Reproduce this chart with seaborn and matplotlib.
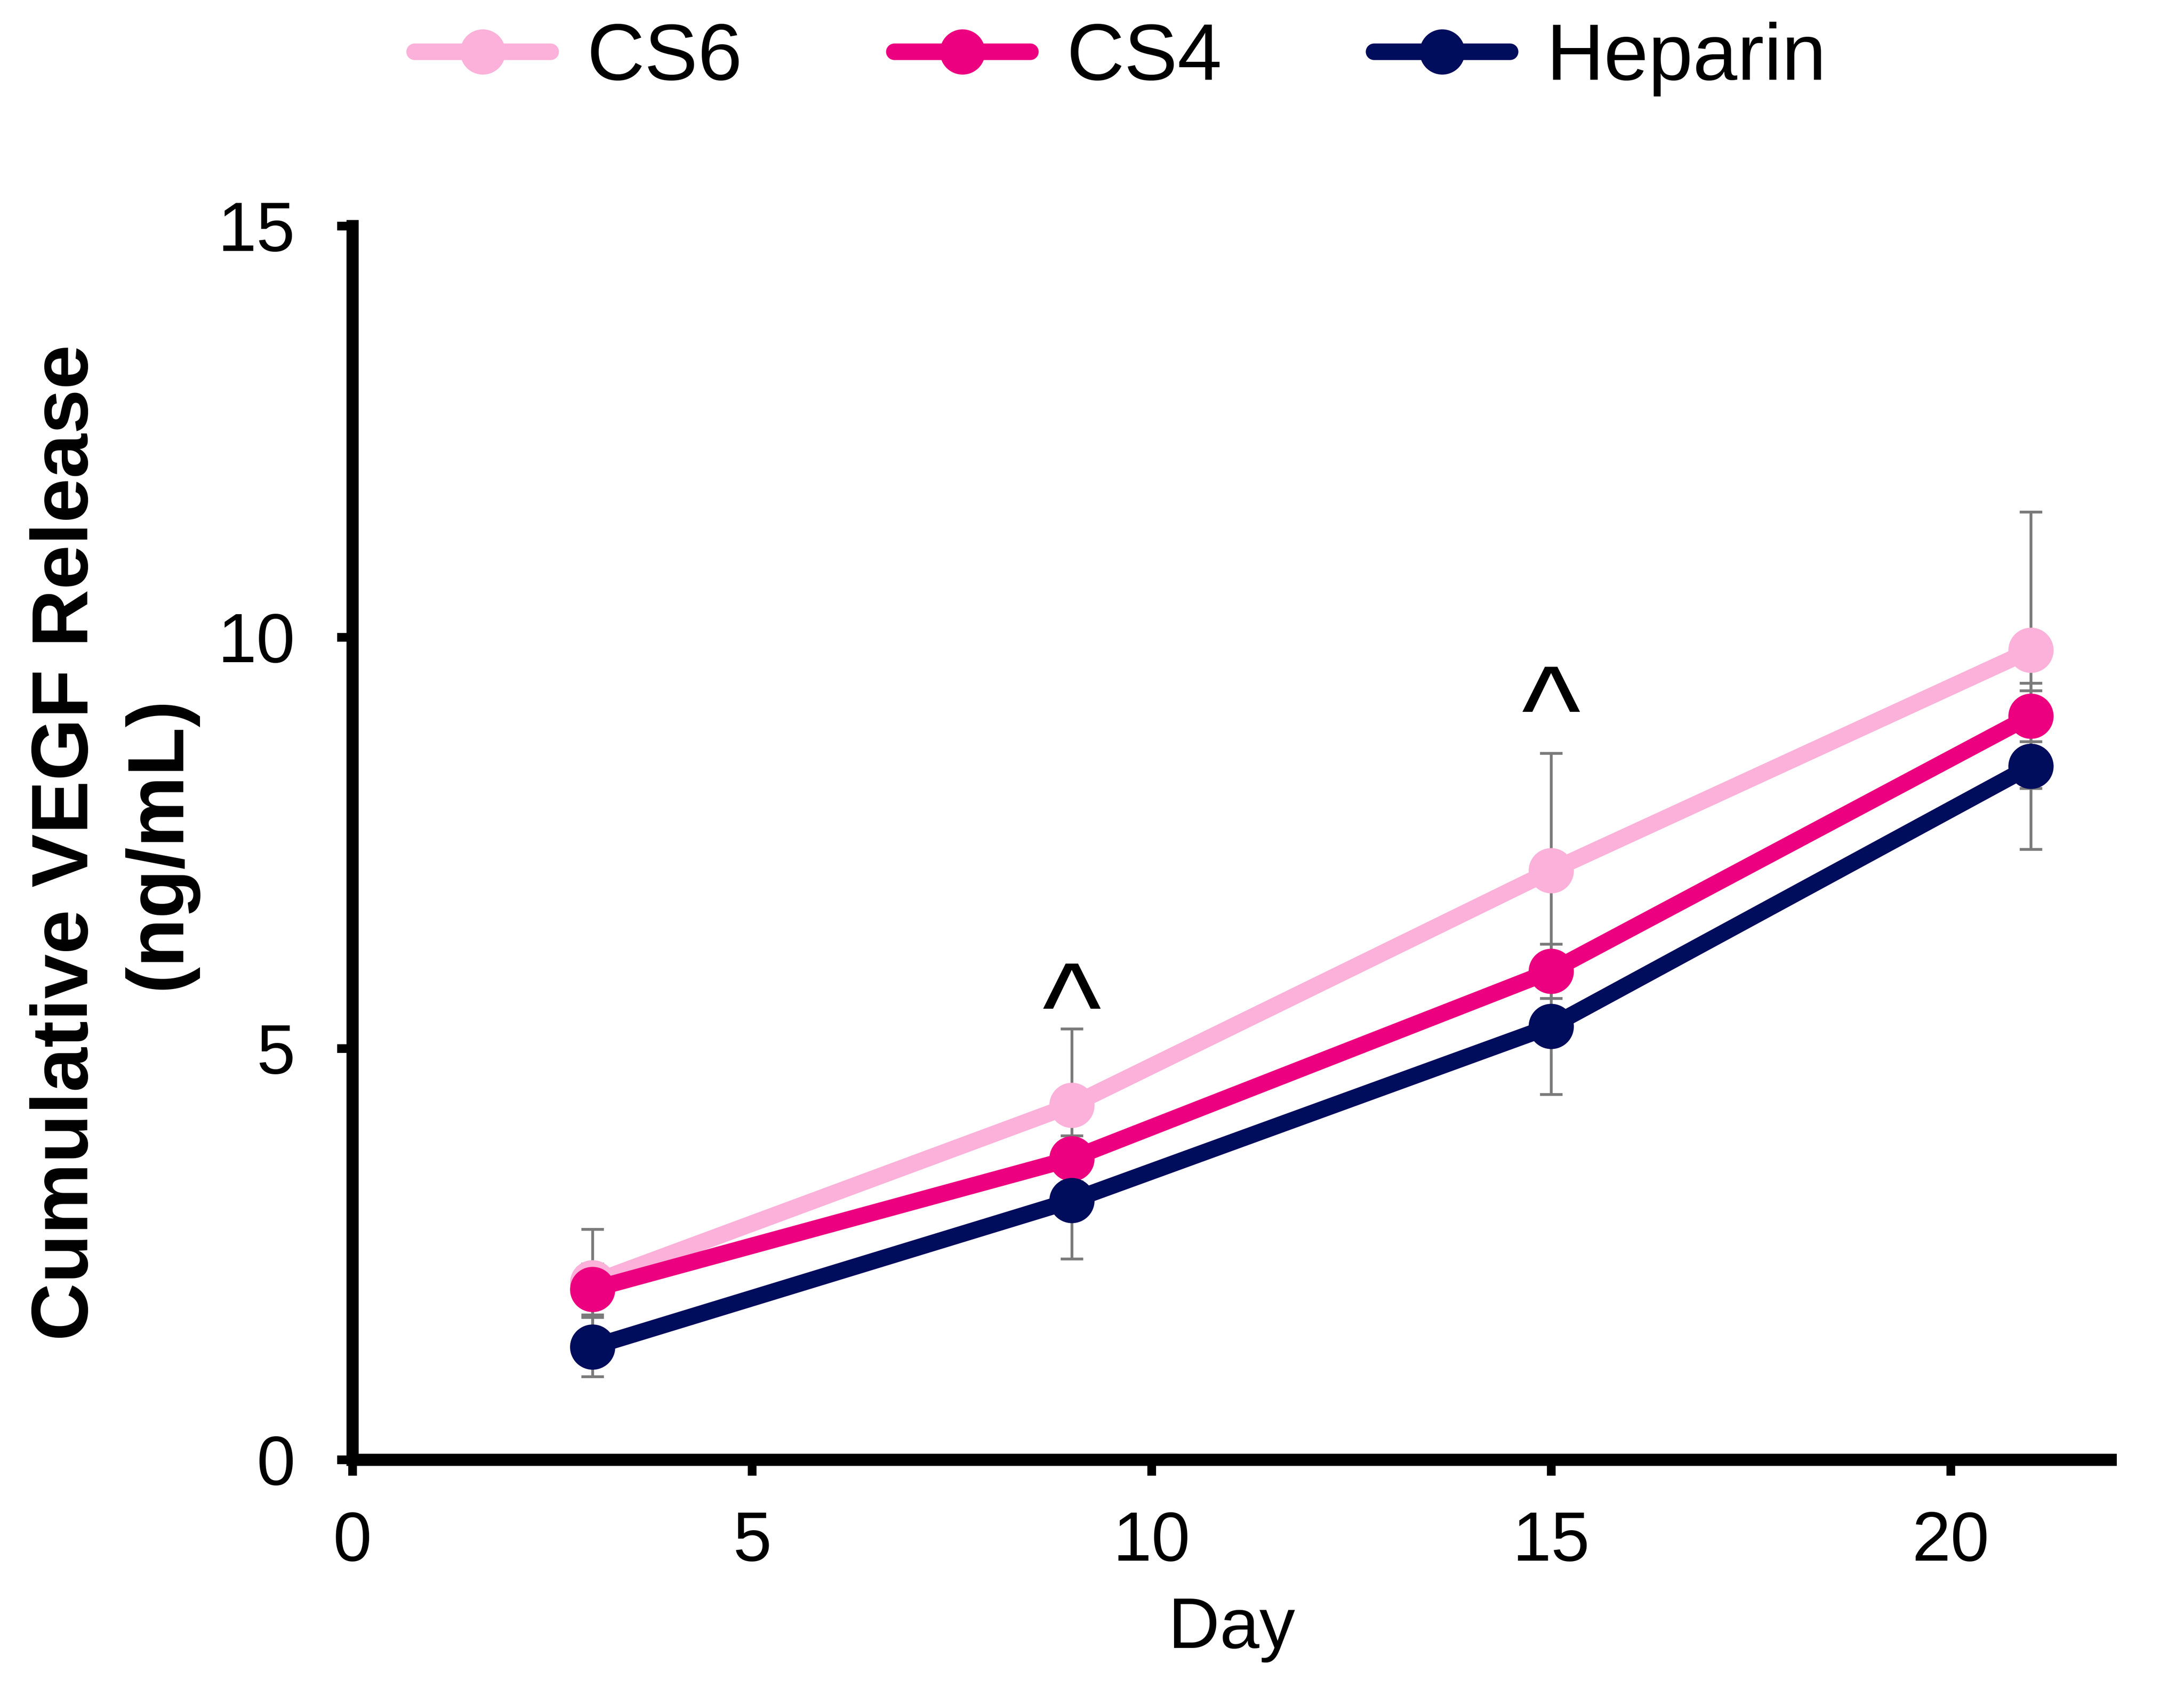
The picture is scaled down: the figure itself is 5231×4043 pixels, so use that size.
import numpy as np
import pandas as pd
import matplotlib
matplotlib.use("Agg")
import matplotlib.pyplot as plt
from matplotlib.lines import Line2D
import seaborn as sns

# values
days = [3, 9, 15, 21]
groups = ["CS6", "CS4", "Heparin"]
cs6_mean = [2.15, 4.31, 7.16, 9.84]
cs6_err = [0.65, 0.93, 1.43, 1.68]
cs4_mean = [2.07, 3.66, 5.94, 9.04]
cs4_err = [0.31, 0.28, 0.33, 0.31]
heparin_mean = [1.37, 3.15, 5.27, 8.43]
heparin_err = [0.36, 0.71, 0.83, 1.01]
colors = {"CS6": "#FBB1D9", "CS4": "#EC007F", "Heparin": "#000C5C"}

# significance marks (day, y of the mark's centre)
mark_days = [9, 15]
mark_y = [5.84, 9.45]

df = pd.concat([
    pd.DataFrame({"Day": days, "release": cs6_mean, "err": cs6_err, "group": "CS6"}),
    pd.DataFrame({"Day": days, "release": cs4_mean, "err": cs4_err, "group": "CS4"}),
    pd.DataFrame({"Day": days, "release": heparin_mean, "err": heparin_err, "group": "Heparin"}),
], ignore_index=True)

sns.set_style("ticks")
plt.rcParams["font.family"] = ["Liberation Sans", "DejaVu Sans"]
plt.rcParams.update({"text.color": "black", "axes.labelcolor": "black",
                     "xtick.color": "black", "ytick.color": "black"})

fig = plt.figure(figsize=(5231 / 300, 4043 / 300), dpi=300)
ax = fig.add_axes([0.1614, 0.1353, 0.805, 0.731])

# error bars sit underneath the lines
for g in groups:
    sub = df[df["group"] == g]
    ax.errorbar(sub["Day"], sub["release"], yerr=sub["err"], fmt="none",
                ecolor="#7A7A7A", elinewidth=1.6, capsize=6.5, capthick=1.6, zorder=1)

sns.lineplot(data=df, x="Day", y="release", hue="group", hue_order=groups,
             palette=colors, marker="o", markersize=26, markeredgewidth=0,
             linewidth=9.5, legend=False, ax=ax, zorder=3)

for d, yv in zip(mark_days, mark_y):
    ax.annotate("^", (d, yv), xytext=(0, -22), textcoords="offset points",
                ha="center", va="center", fontsize=72, color="black")

ax.set_xlim(0, 22)
ax.set_ylim(0, 15)
ax.set_xticks([0, 5, 10, 15, 20])
ax.set_yticks([0, 5, 10, 15])
sns.despine(ax=ax)
for side in ["left", "bottom"]:
    ax.spines[side].set_linewidth(7)
    ax.spines[side].set_color("black")
ax.tick_params(axis="both", length=9, width=5, color="black", labelsize=40)
ax.tick_params(axis="x", pad=20)
ax.tick_params(axis="y", pad=24)

ax.set_xlabel("Day", fontsize=41, labelpad=12)
ax.set_ylabel("Cumulative VEGF Release\n(ng/mL)", fontsize=46, fontweight="bold",
              labelpad=12, linespacing=1.3)

handles = [Line2D([], [], color=colors[g], linewidth=9.5, marker="o", markersize=26,
                  markeredgewidth=0) for g in groups]
fig.legend(handles, groups, loc="center", bbox_to_anchor=(0.513, 0.965), ncol=3,
           frameon=False, fontsize=46, handlelength=1.7, handletextpad=0.45,
           columnspacing=1.9)

fig.savefig("out.png", dpi=300, facecolor="white")
